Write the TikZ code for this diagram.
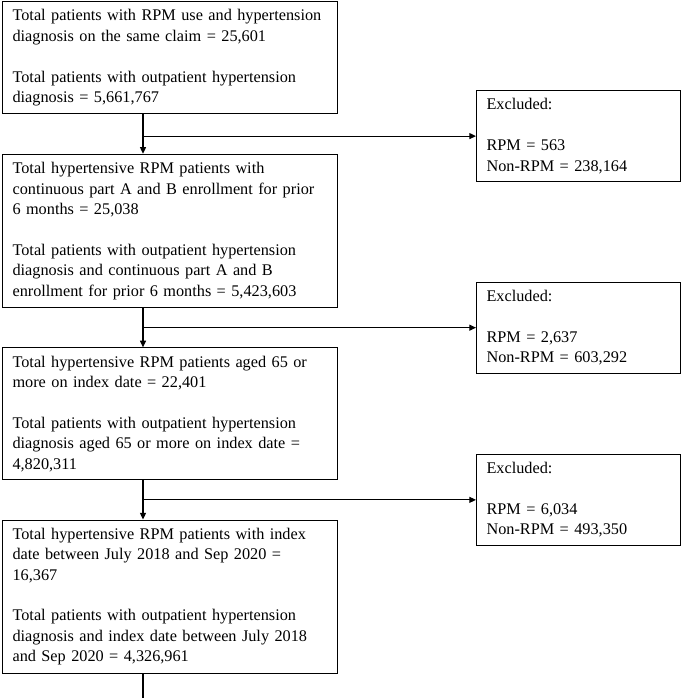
\documentclass[tikz,border=0pt]{standalone}
\usepackage{fontspec}
\setmainfont{Liberation Serif}
\usetikzlibrary{positioning,arrows.meta}

\begin{document}
\begin{tikzpicture}[mainbox/.style={draw,line width=0.8pt,align=left,text width=236pt,inner xsep=7.5pt,inner ysep=6pt,font=\fontsize{12.2}{15.3}\selectfont},
    exclbox/.style={mainbox,text width=138pt},
    flow/.style={line width=0.8pt,-{Triangle[length=5pt,width=4.5pt]}}]
    \useasboundingbox (0,0) rectangle (513.75pt,-523.5pt);
    \coordinate (spine) at (107.25pt,0);
    \coordinate (tail) at (107.25pt,-523.5pt);
    \node[mainbox,anchor=north west] (claim) at (1.5pt,-0.75pt) {Total patients with RPM use and hypertension\\ diagnosis on the same claim = 25,601\\[15.3pt] Total patients with outpatient hypertension\\ diagnosis = 5,661,767};
    \node[mainbox,below=29.5pt of claim] (enroll) {Total hypertensive RPM patients with\\ continuous part A and B enrollment for prior\\ 6 months = 25,038\\[15.3pt] Total patients with outpatient hypertension\\ diagnosis and continuous part A and B\\ enrollment for prior 6 months = 5,423,603};
    \node[mainbox,below=29.5pt of enroll] (age) {Total hypertensive RPM patients aged 65 or\\ more on index date = 22,401\\[15.3pt] Total patients with outpatient hypertension\\ diagnosis aged 65 or more on index date =\\ 4,820,311};
    \node[mainbox,below=29.5pt of age] (window) {Total hypertensive RPM patients with index\\ date between July 2018 and Sep 2020 =\\ 16,367\\[15.3pt] Total patients with outpatient hypertension\\ diagnosis and index date between July 2018\\ and Sep 2020 = 4,326,961};
    % branch points halfway down each gap
    \path (claim.south -| spine) -- (enroll.north -| spine) coordinate[pos=0.55] (gapone);
    \path (enroll.south -| spine) -- (age.north -| spine) coordinate[midway] (gaptwo);
    \path (age.south -| spine) -- (window.north -| spine) coordinate[midway] (gapthree);
    \node[exclbox,right=249.75pt of gapone] (exclone) {Excluded:\\[15.3pt] RPM = 563\\ Non-RPM = 238,164};
    \node[exclbox,right=249.75pt of gaptwo] (excltwo) {Excluded:\\[15.3pt] RPM = 2,637\\ Non-RPM = 603,292};
    \node[exclbox,right=249.75pt of gapthree] (exclthree) {Excluded:\\[15.3pt] RPM = 6,034\\ Non-RPM = 493,350};
    \draw[flow] (claim.south -| spine) -- (enroll.north -| spine);
    \draw[flow] (enroll.south -| spine) -- (age.north -| spine);
    \draw[flow] (age.south -| spine) -- (window.north -| spine);
    \draw[flow] (gapone) -- (exclone.west);
    \draw[flow] (gaptwo) -- (excltwo.west);
    \draw[flow] (gapthree) -- (exclthree.west);
    \draw[line width=0.8pt] (window.south -| spine) -- (tail);
\end{tikzpicture}
\end{document}
